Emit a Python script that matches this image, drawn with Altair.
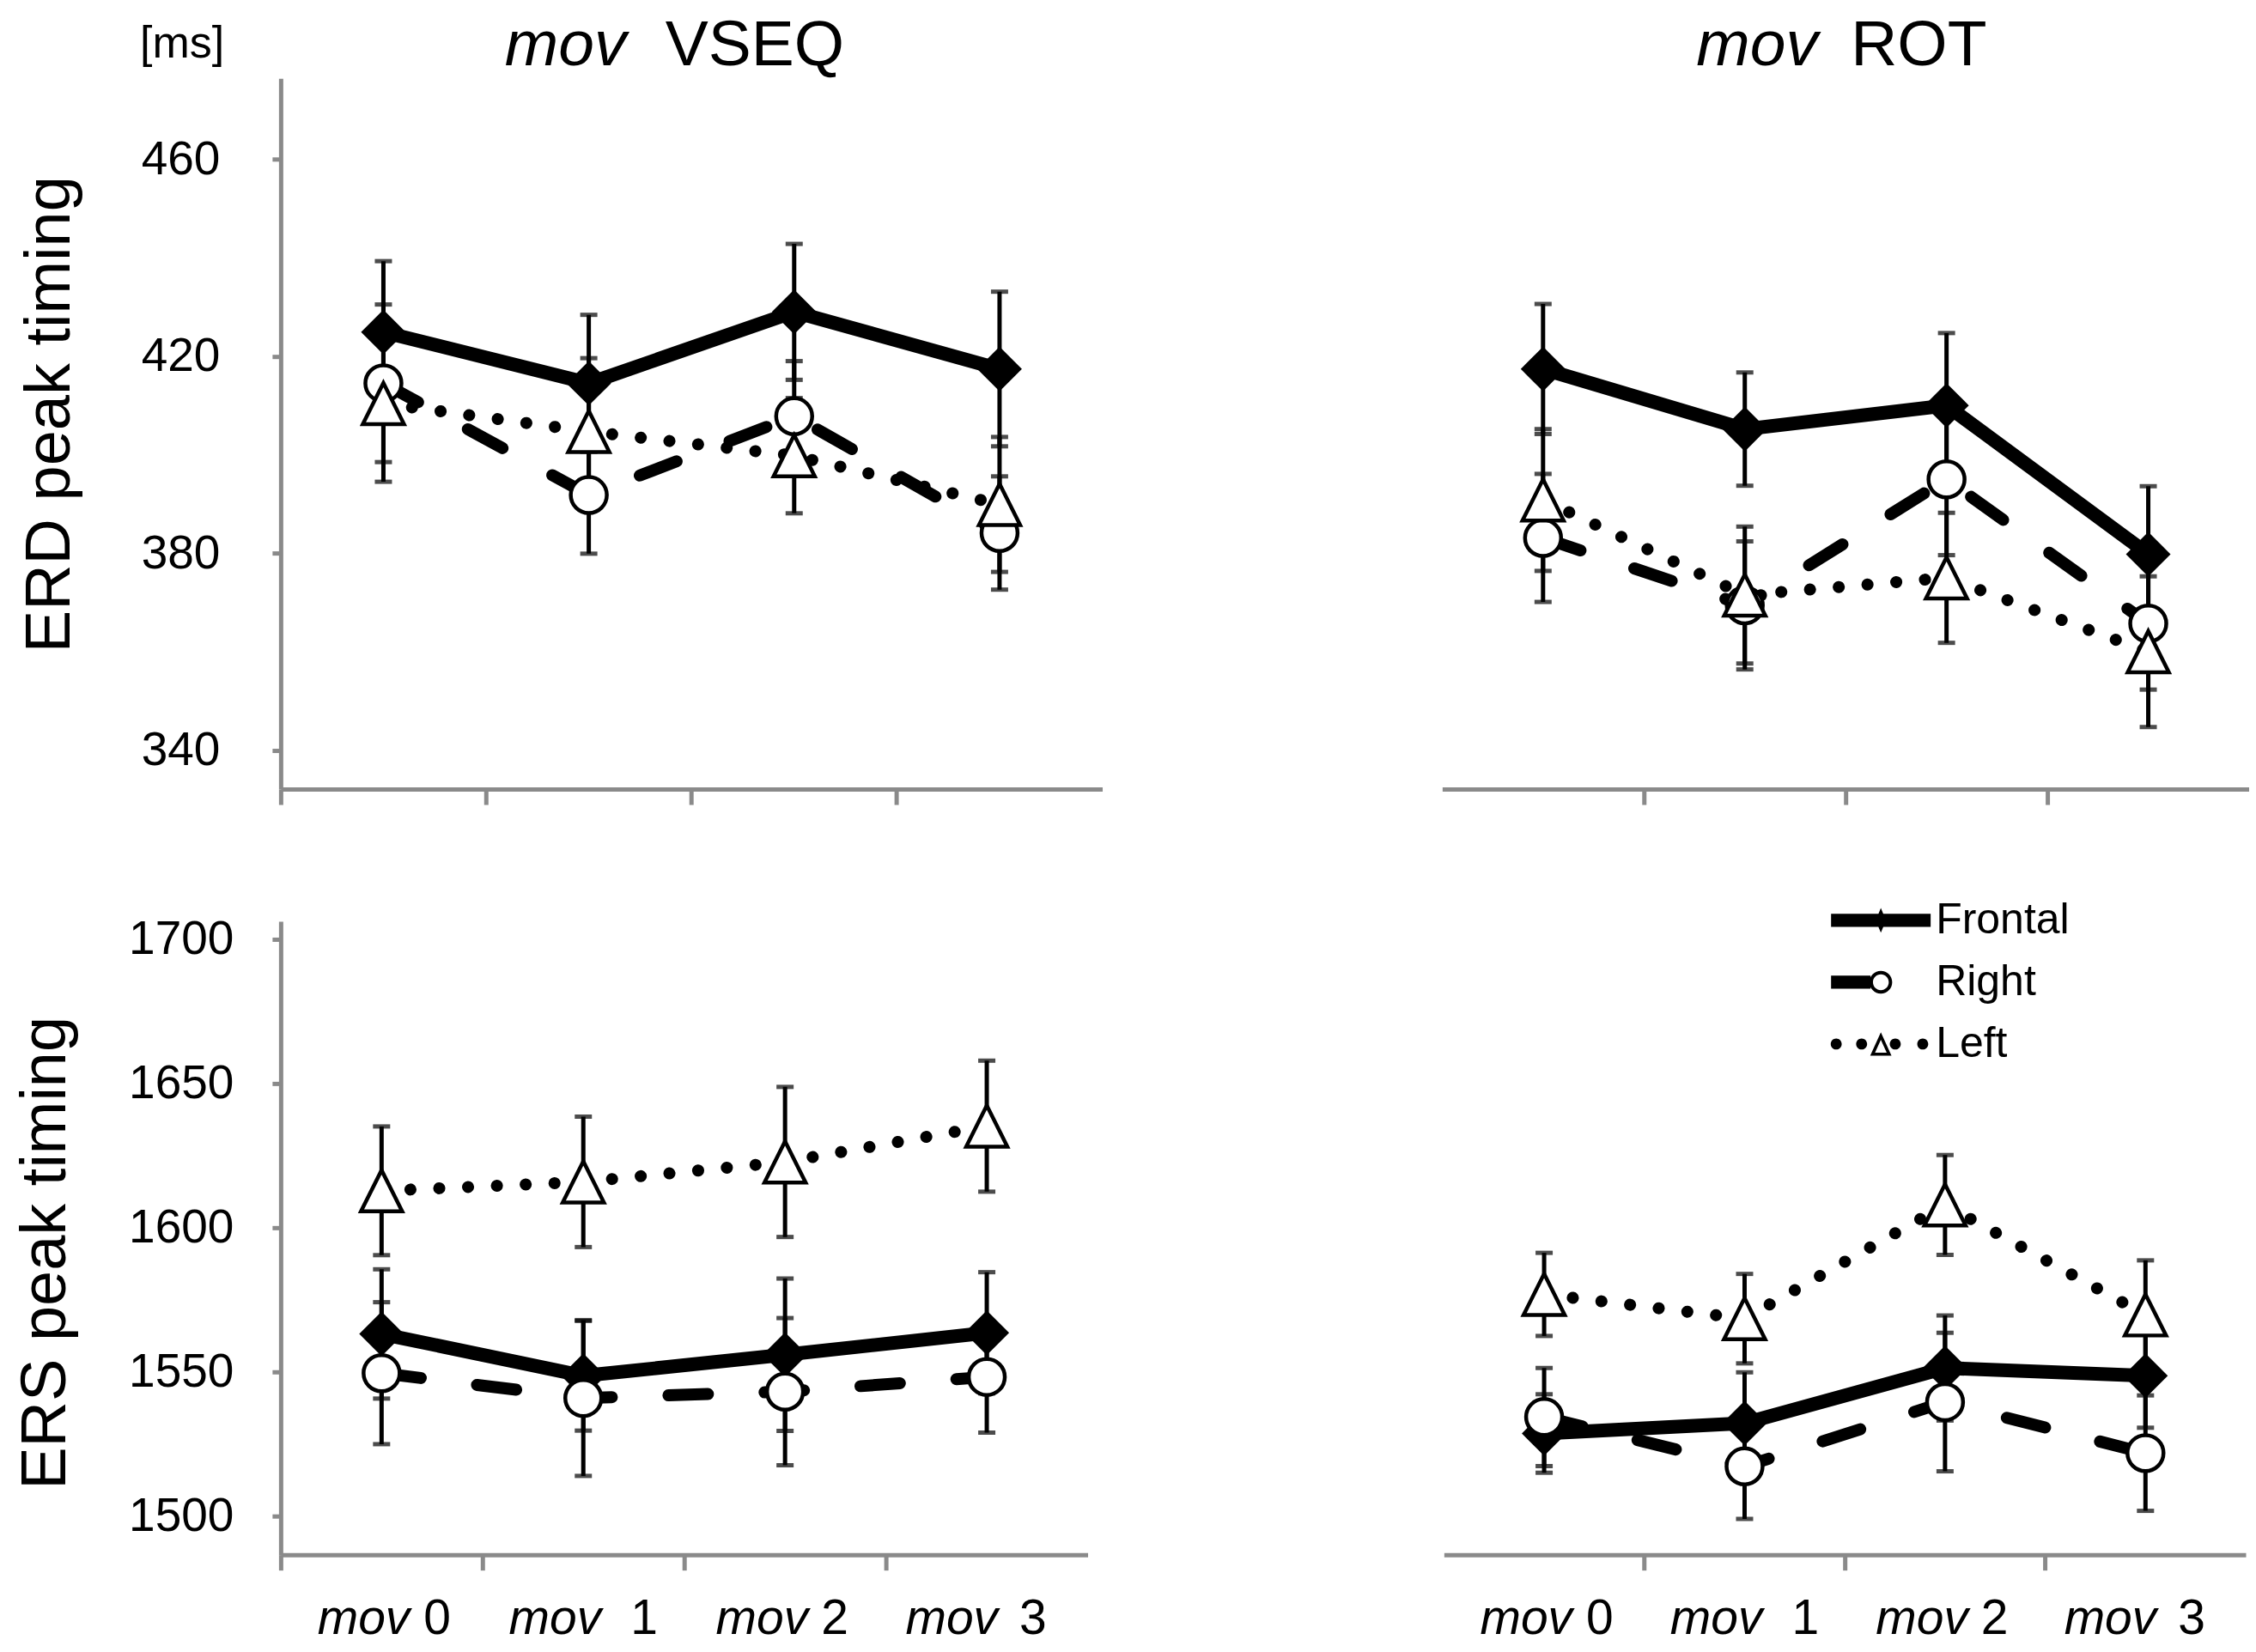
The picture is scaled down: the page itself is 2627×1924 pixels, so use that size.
import altair as alt
import pandas as pd

# ---------------- data ----------------
cats = ["mov0", "mov1", "mov2", "mov3"]
digits = ["0", "1", "2", "3"]
series = ["Frontal", "Right", "Left"]

# ERD peak timing, mov VSEQ
erd_vseq_frontal = [424.9, 414.5, 429.0, 417.4]
erd_vseq_frontal_se = [14.4, 13.9, 13.8, 15.7]
erd_vseq_right = [414.5, 391.8, 407.8, 384.1]
erd_vseq_right_se = [16.0, 11.9, 11.2, 11.5]
erd_vseq_left = [410.4, 404.7, 399.8, 389.9]
erd_vseq_left_se = [15.9, 14.9, 11.7, 13.7]

# ERD peak timing, mov ROT
erd_rot_frontal = [417.4, 405.2, 410.0, 379.8]
erd_rot_frontal_se = [13.2, 11.5, 14.7, 13.8]
erd_rot_right = [383.1, 369.4, 395.0, 365.7]
erd_rot_right_se = [13.0, 13.0, 15.4, 13.4]
erd_rot_left = [390.8, 371.5, 375.0, 360.0]
erd_rot_left_se = [14.4, 13.9, 13.2, 15.3]

# ERS peak timing, mov VSEQ
ers_vseq_frontal = [1563.1, 1548.6, 1555.9, 1563.5]
ers_vseq_frontal_se = [22.4, 19.0, 26.4, 21.0]
ers_vseq_right = [1549.5, 1540.9, 1543.1, 1548.2]
ers_vseq_right_se = [24.6, 27.0, 25.5, 19.3]
ers_vseq_left = [1612.7, 1615.8, 1622.7, 1635.1]
ers_vseq_left_se = [22.3, 22.6, 26.0, 22.7]

# ERS peak timing, mov ROT
ers_rot_frontal = [1528.6, 1532.2, 1551.3, 1548.6]
ers_rot_frontal_se = [13.6, 17.6, 18.2, 18.0]
ers_rot_right = [1534.3, 1517.2, 1539.5, 1521.8]
ers_rot_right_se = [17.0, 18.2, 24.0, 20.0]
ers_rot_left = [1576.8, 1568.4, 1607.8, 1569.7]
ers_rot_left_se = [14.4, 15.5, 17.3, 18.9]

erd_ticks = [340, 380, 420, 460]
ers_ticks = [1500, 1550, 1600, 1650, 1700]

# ---------------- style ----------------
FONT = "Liberation Sans"
GRAY = "#8a8a8a"
TRI = "M0,-1L1,1L-1,1Z"

# legend symbols (line + marker), unit = 40 px
LEG_F = "M-1.45,-0.19H1.45V0.19H-1.45Z M0,-0.36L0.15,0L0,0.36L-0.15,0Z"
LEG_R = ("M-1.45,-0.19H-0.3V0.19H-1.45Z "
         "M0.33,0A0.33,0.33 0 1,1 -0.33,0A0.33,0.33 0 1,1 0.33,0Z "
         "M0.23,0A0.23,0.23 0 1,0 -0.23,0A0.23,0.23 0 1,0 0.23,0Z")


def dot(cx, r=0.16):
    return f"M{cx + r},0A{r},{r} 0 1,1 {cx - r},0A{r},{r} 0 1,1 {cx + r},0Z "


LEG_L = (dot(-1.3) + dot(-0.56) + dot(0.42) + dot(1.22) +
         "M0,-0.34L0.31,0.34L-0.31,0.34Z M0,-0.12L-0.17,0.25L0.17,0.25Z")


def make_df(f, fse, r, rse, l, lse):
    rows = []
    for s, m, e in [("Frontal", f, fse), ("Right", r, rse), ("Left", l, lse)]:
        for c, mv, ev in zip(cats, m, e):
            rows.append({"cat": c, "series": s, "mean": mv, "lo": mv - ev, "hi": mv + ev})
    return pd.DataFrame(rows)


def panel(df, width, height, ydom, yticks, box, ytitle=None, title_x=0, title_y=0,
          label_pad=0, titles=(), xlabels=False, legend=False, ms=False, first_tick=True):
    tick_vals = cats if first_tick else cats[1:]
    xenc = alt.X("cat:N",
                 scale=alt.Scale(type="band", domain=cats, paddingInner=0, paddingOuter=0),
                 axis=alt.Axis(values=tick_vals, bandPosition=0, labels=False, title=None,
                               domainColor=GRAY, domainWidth=5, tickColor=GRAY, tickWidth=5,
                               tickSize=18, grid=False))
    yscale = alt.Scale(domain=ydom, nice=False, zero=False)
    if ytitle:
        yaxis = alt.Axis(values=yticks, format="d", title=ytitle, titleFontSize=74,
                         titleFont=FONT, titleFontWeight="normal", titleColor="black",
                         titleAngle=270, titleX=title_x, titleY=title_y, titleAlign="center",
                         titleBaseline="alphabetic", labelFontSize=55, labelFont=FONT,
                         labelColor="black", labelPadding=label_pad, tickSize=10, tickWidth=5,
                         tickColor=GRAY, domainColor=GRAY, domainWidth=5, grid=False)
    else:
        yaxis = None

    def yenc(f):
        return alt.Y(f"{f}:Q", scale=yscale, axis=yaxis)

    one = alt.Chart(pd.DataFrame({"k": [0]}))
    base = alt.Chart(df)
    layers = []

    # invisible frame that fixes the panel's outer extent for the layout
    x0, x1, y0, y1 = box
    layers.append(one.mark_rule(opacity=0, strokeWidth=0.5, color="white")
                  .encode(x=alt.value(x0), x2=alt.value(x1), y=alt.value(y0), y2=alt.value(y1)))

    line_style = {
        "Frontal": dict(strokeWidth=16, strokeJoin="round"),
        "Right": dict(strokeWidth=14, strokeDash=[46, 66], strokeCap="round"),
        "Left": dict(strokeWidth=14, strokeDash=[0.1, 33.5], strokeCap="round"),
    }
    for s in series:
        layers.append(base.transform_filter(alt.datum.series == s)
                      .mark_line(color="black", **line_style[s])
                      .encode(x=xenc, y=yenc("mean")))
    layers.append(base.mark_rule(color="black", strokeWidth=5)
                  .encode(x=xenc, y=yenc("lo"), y2="hi"))
    layers.append(base.mark_tick(color="black", size=20, thickness=5)
                  .encode(x=xenc, y=yenc("lo")))
    layers.append(base.mark_tick(color="black", size=20, thickness=5)
                  .encode(x=xenc, y=yenc("hi")))
    marker = {
        "Frontal": dict(shape="diamond", filled=True, fill="black", strokeWidth=0, size=2704),
        "Right": dict(shape="circle", filled=True, fill="white", stroke="black",
                      strokeWidth=4.5, size=1764),
        "Left": dict(shape=TRI, filled=True, fill="white", stroke="black",
                     strokeWidth=4.5, size=2304),
    }
    for s in series:
        layers.append(base.transform_filter(alt.datum.series == s)
                      .mark_point(opacity=1, **marker[s])
                      .encode(x=xenc, y=yenc("mean")))

    for txt, px, italic in titles:
        layers.append(one.mark_text(text=txt, font=FONT, fontSize=75, align="left",
                                    baseline="alphabetic", color="black",
                                    fontStyle="italic" if italic else "normal")
                      .encode(x=alt.value(px), y=alt.value(-15)))
    if ms:
        layers.append(one.mark_text(text="[ms]", font=FONT, fontSize=52, align="left",
                                    baseline="alphabetic", color="black")
                      .encode(x=alt.value(-164), y=alt.value(-24)))

    if xlabels:
        lab = pd.DataFrame({"cat": cats, "digit": digits})
        mov_dx = [33, 21, 27, 13]
        dig_dx = [49, 55, 42, 38]
        for i, c in enumerate(cats):
            sub = alt.Chart(lab).transform_filter(alt.datum.cat == c)
            layers.append(sub.mark_text(text="mov", font=FONT, fontSize=57, fontStyle="italic",
                                        align="right", baseline="alphabetic", color="black",
                                        dx=mov_dx[i])
                          .encode(x=xenc, y=alt.value(height + 92)))
            layers.append(sub.mark_text(font=FONT, fontSize=57, align="left",
                                        baseline="alphabetic", color="black", dx=dig_dx[i])
                          .encode(x=xenc, y=alt.value(height + 92), text="digit:N"))

    if legend:
        layers.append(base.transform_filter("false")
                      .mark_point(filled=True, fill="black", strokeWidth=0, opacity=1)
                      .encode(x=xenc, y=alt.Y("mean:Q", scale=yscale, axis=None),
                              shape=alt.Shape("series:N",
                                              scale=alt.Scale(domain=series,
                                                              range=[LEG_F, LEG_R, LEG_L]),
                                              legend=alt.Legend(
                                                  orient="none", legendX=469, legendY=-41,
                                                  title=None, symbolSize=6400,
                                                  symbolFillColor="black",
                                                  symbolStrokeWidth=0, symbolOpacity=1,
                                                  labelFontSize=50, labelFont=FONT,
                                                  labelColor="black", labelOffset=24,
                                                  rowPadding=7, padding=0))))

    return alt.layer(*layers).properties(width=width, height=height)


df_erd_vseq = make_df(erd_vseq_frontal, erd_vseq_frontal_se, erd_vseq_right,
                      erd_vseq_right_se, erd_vseq_left, erd_vseq_left_se)
df_erd_rot = make_df(erd_rot_frontal, erd_rot_frontal_se, erd_rot_right,
                     erd_rot_right_se, erd_rot_left, erd_rot_left_se)
df_ers_vseq = make_df(ers_vseq_frontal, ers_vseq_frontal_se, ers_vseq_right,
                      ers_vseq_right_se, ers_vseq_left, ers_vseq_left_se)
df_ers_rot = make_df(ers_rot_frontal, ers_rot_frontal_se, ers_rot_right,
                     ers_rot_right_se, ers_rot_left, ers_rot_left_se)

ERD_DOM = [332.1, 476.4]
ERS_DOM = [1486.6, 1706.1]

tl = panel(df_erd_vseq, 957, 828, ERD_DOM, erd_ticks, box=(-314, 967, -83, 858),
           ytitle="ERD peak timing", title_x=-246.5, title_y=391, label_pad=61,
           titles=[("mov", 261, True), ("VSEQ", 448, False)], ms=True)
tr = panel(df_erd_rot, 940, 828, ERD_DOM, erd_ticks, box=(-10, 940, -83, 858),
           titles=[("mov", 296, True), ("ROT", 476, False)], first_tick=False)
bl = panel(df_ers_vseq, 940, 738, ERS_DOM, ers_ticks, box=(-319, 950, -45, 843),
           ytitle="ERS peak timing", title_x=-251.5, title_y=386, label_pad=45,
           xlabels=True)
br = panel(df_ers_rot, 934, 738, ERS_DOM, ers_ticks, box=(-10, 934, -45, 843),
           xlabels=True, legend=True, first_tick=False)

row1 = alt.hconcat(tl, tr, spacing=376).resolve_scale(shape="independent")
row2 = alt.hconcat(bl, br, spacing=395).resolve_scale(shape="independent")

chart = (alt.vconcat(row1, row2, spacing=79)
         .resolve_scale(shape="independent")
         .properties(padding=0, background="white")
         .configure_view(stroke=None))

chart.save("out.html", embed_options={"renderer": "svg", "actions": False})
